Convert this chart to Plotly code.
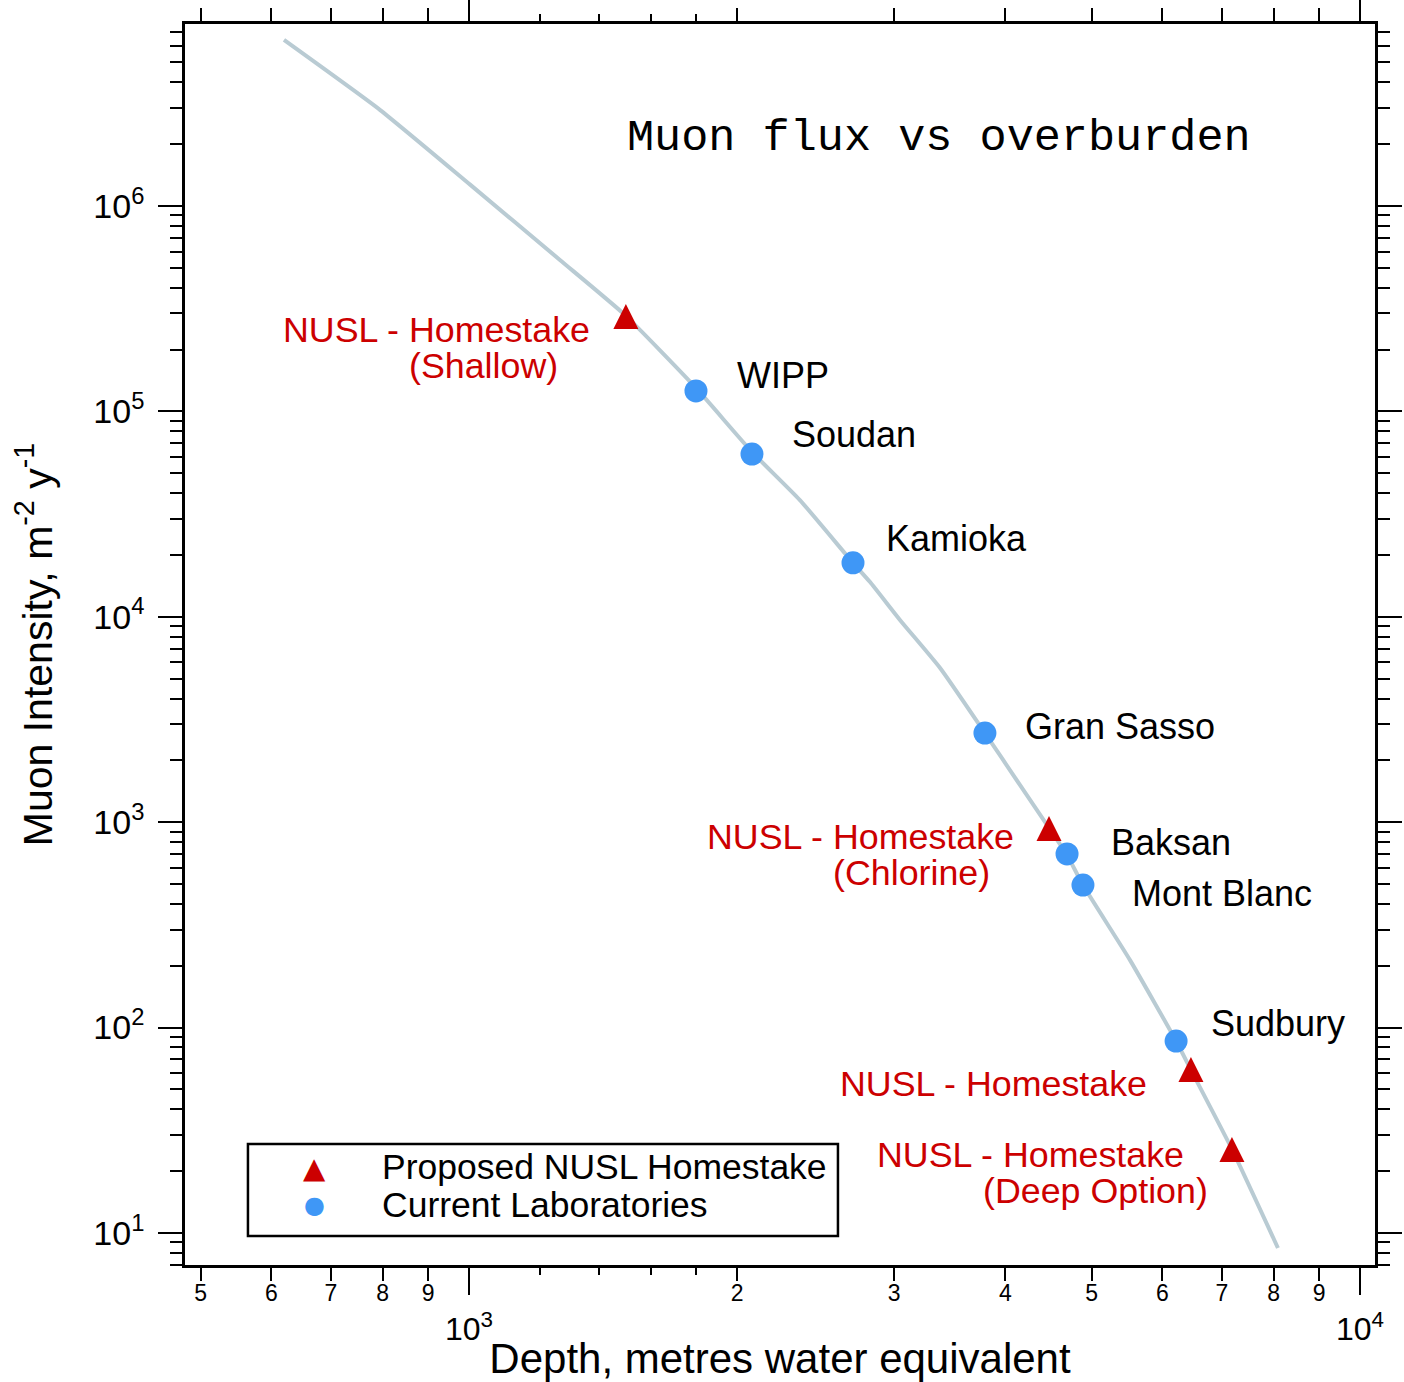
import math
import plotly.graph_objects as go

# ---------------- data ----------------
curve_depth = [620, 795, 1003, 1265, 1496, 1798, 2078, 2352, 2698, 2818, 3046, 3379,
               3794, 4153, 4477, 4691, 4888, 5520, 6218, 6461, 7183, 8090]
curve_flux = [6.43e6, 2.93e6, 1.27e6, 5.46e5, 2.95e5, 1.30e5, 6.35e4, 3.70e4, 1.83e4,
              1.48e4, 9.65e3, 5.63e3, 2716, 1518, 937, 692, 494, 213, 86, 62.2, 25.6, 8.45]

lab_names = ["WIPP", "Soudan", "Kamioka", "Gran Sasso", "Baksan", "Mont Blanc", "Sudbury"]
lab_depth = [1798, 2078, 2698, 3794, 4691, 4888, 6218]
lab_flux = [1.257e5, 6.2e4, 1.83e4, 2716, 700, 494, 86]

nusl_names = ["Shallow", "Chlorine", "Homestake", "Deep Option"]
nusl_depth = [1500, 4477, 6461, 7183]
nusl_flux = [3.33e5, 1072, 71.9, 29.3]

legend_labels = ["Proposed NUSL Homestake", "Current Laboratories"]

x_label_vals = [500, 600, 700, 800, 900, 2000, 3000, 4000, 5000, 6000, 7000, 8000, 9000]
x_label_text = ["5", "6", "7", "8", "9", "2", "3", "4", "5", "6", "7", "8", "9"]
x_minor_vals = [1200, 1400, 1600, 1800]
x_major_vals = [1000, 10000]
x_major_text = ["10<sup>3</sup>", "10<sup>4</sup>"]
y_major_vals = [10, 100, 1000, 10000, 100000, 1000000]
y_major_text = ["10<sup>1</sup>", "10<sup>2</sup>", "10<sup>3</sup>",
                "10<sup>4</sup>", "10<sup>5</sup>", "10<sup>6</sup>"]

# ---------------- style ----------------
RED = "#cc0000"
BLUE = "#3f97f6"
CURVE = "#b9cbd3"
SANS = "Liberation Sans, Arial, sans-serif"
MONO = "Liberation Mono, Courier New, monospace"

y_minor_vals = [m * 10 ** e for e in range(0, 7) for m in range(2, 10)]

fig = go.Figure()
fig.add_trace(go.Scatter(x=curve_depth, y=curve_flux, mode="lines",
                         line=dict(color=CURVE, width=4, shape="spline", smoothing=0.5),
                         showlegend=False, hoverinfo="skip"))
fig.add_trace(go.Scatter(x=nusl_depth, y=nusl_flux, mode="markers", name=legend_labels[0],
                         text=nusl_names,
                         marker=dict(symbol="arrow-up", size=25, color=RED, line=dict(width=0)),
                         showlegend=False))
fig.add_trace(go.Scatter(x=lab_depth, y=lab_flux, mode="markers", name=legend_labels[1],
                         text=lab_names,
                         marker=dict(symbol="circle", size=23, color=BLUE, line=dict(width=0)),
                         showlegend=False))
# invisible trace to activate the overlaid axis carrying the decade ticks
fig.add_trace(go.Scatter(x=[None], y=[None], xaxis="x2", yaxis="y", showlegend=False,
                         hoverinfo="skip"))

ann = []
lab_shift = {"WIPP": (39, 15), "Soudan": (38, 20), "Kamioka": (31, 24), "Gran Sasso": (38, 7),
             "Baksan": (42, 11), "Mont Blanc": (47, -8), "Sudbury": (33, 18)}
for n, d, f in zip(lab_names, lab_depth, lab_flux):
    dx, dy = lab_shift[n]
    ann.append(dict(x=math.log10(d), y=math.log10(f), xref="x", yref="y", text=n,
                    showarrow=False, xanchor="left", yanchor="middle", xshift=dx, yshift=dy,
                    font=dict(family=SANS, size=36, color="black")))

nusl_lines = {
    "Shallow": [("NUSL - Homestake", -34, -26), ("(Shallow)", -66, -62)],
    "Chlorine": [("NUSL - Homestake", -33, -21), ("(Chlorine)", -57, -57)],
    "Homestake": [("NUSL - Homestake", -42, -27)],
    "Deep Option": [("NUSL - Homestake", -46, -18), ("(Deep Option)", -22, -54)],
}
for n, d, f in zip(nusl_names, nusl_depth, nusl_flux):
    for txt, dx, dy in nusl_lines[n]:
        ann.append(dict(x=math.log10(d), y=math.log10(f), xref="x", yref="y", text=txt,
                        showarrow=False, xanchor="right", yanchor="middle", xshift=dx, yshift=dy,
                        font=dict(family=SANS, size=35.8, color=RED)))

ann.append(dict(x=0.3698, y=0.9081, xref="paper", yref="paper", text="Muon flux vs overburden",
                showarrow=False, xanchor="left", yanchor="middle",
                font=dict(family=MONO, size=45.2, color="black")))

# hand-built legend (box, symbols, labels)
LEG_X0, LEG_X1, LEG_Y0, LEG_Y1 = 0.0529, 0.5487, 0.0234, 0.0975
SYM_X, TXT_X = 0.1092, 0.1639
ROW_Y = [0.0782, 0.0483]
ann.append(dict(x=SYM_X, y=ROW_Y[0], xref="paper", yref="paper", text="▲", showarrow=False,
                xanchor="center", yanchor="middle", font=dict(family="DejaVu Sans", size=29, color=RED)))
ann.append(dict(x=SYM_X, y=ROW_Y[1], xref="paper", yref="paper", text="●", showarrow=False,
                xanchor="center", yanchor="middle", font=dict(family="DejaVu Sans", size=24, color=BLUE)))
for lbl, ry in zip(legend_labels, [0.0790, 0.0483]):
    ann.append(dict(x=TXT_X, y=ry, xref="paper", yref="paper", text=lbl, showarrow=False,
                    xanchor="left", yanchor="middle",
                    font=dict(family=SANS, size=35.5, color="black")))

xrange_ = [2.6813, 4.0169]
yrange_ = [0.844, 6.886]

fig.update_layout(
    width=1404, height=1382, autosize=False,
    margin=dict(l=185, r=29, t=24, b=117),
    paper_bgcolor="white", plot_bgcolor="white",
    font=dict(family=SANS, color="black"),
    showlegend=False,
    annotations=ann,
    shapes=[dict(type="rect", xref="paper", yref="paper", x0=LEG_X0, x1=LEG_X1,
                 y0=LEG_Y0, y1=LEG_Y1, line=dict(color="black", width=2.5),
                 fillcolor="rgba(0,0,0,0)")],
    xaxis=dict(type="log", range=xrange_, tickmode="array", tickvals=x_label_vals,
               ticktext=x_label_text, ticks="outside", ticklen=13, tickwidth=2,
               tickcolor="black", tickfont=dict(family=SANS, size=23), ticklabelstandoff=-7,
               showline=True, linewidth=2.5, linecolor="black", mirror="ticks",
               showgrid=False, zeroline=False, automargin=False,
               minor=dict(tickmode="array", tickvals=x_minor_vals, ticks="outside",
                          ticklen=7, tickwidth=2, tickcolor="black", showgrid=False),
               title=dict(text="Depth, metres water equivalent",
                          font=dict(family=SANS, size=42), standoff=50)),
    xaxis2=dict(type="log", range=xrange_, overlaying="x", side="bottom",
                tickmode="array", tickvals=x_major_vals, ticktext=x_major_text,
                ticks="outside", ticklen=27, tickwidth=2, tickcolor="black",
                tickfont=dict(family=SANS, size=32), ticklabelstandoff=7,
                showline=True, linewidth=2.5, linecolor="black", mirror="ticks",
                showgrid=False, zeroline=False, automargin=False),
    yaxis=dict(type="log", range=yrange_, tickmode="array", tickvals=y_major_vals,
               ticktext=y_major_text, ticks="outside", ticklen=24, tickwidth=2,
               tickcolor="black", tickfont=dict(family=SANS, size=34), ticklabelstandoff=7,
               showline=True, linewidth=2.5, linecolor="black", mirror="ticks",
               showgrid=False, zeroline=False, automargin=False,
               minor=dict(tickmode="array", tickvals=y_minor_vals, ticks="outside",
                          ticklen=12, tickwidth=2, tickcolor="black", showgrid=False),
               title=dict(text="Muon Intensity, m<sup>-2</sup> y<sup>-1</sup>",
                          font=dict(family=SANS, size=41), standoff=29)),
)

fig.write_html("out.html", config={"responsive": False, "displayModeBar": False},
               post_script="document.body.style.margin='0px';")
